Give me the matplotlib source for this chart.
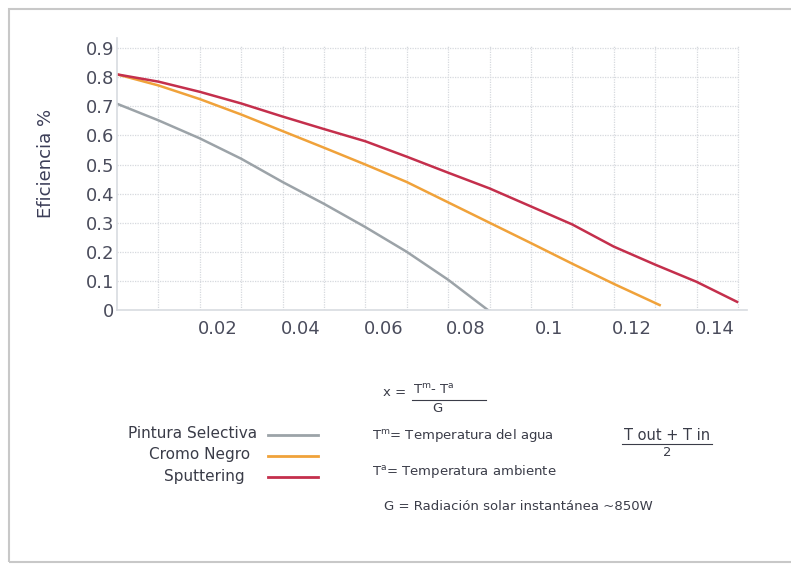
import matplotlib
matplotlib.use("Agg")
import matplotlib.pyplot as plt
import matplotlib.transforms as mtransforms
from matplotlib.patches import Rectangle
from matplotlib.lines import Line2D

# datos
x_pintura = [0.0, 0.01, 0.02, 0.03, 0.04, 0.05, 0.06, 0.07, 0.08, 0.0896]
y_pintura = [0.709, 0.652, 0.59, 0.52, 0.44, 0.365, 0.285, 0.20, 0.104, 0.0]

x_cromo = [0.0, 0.01, 0.02, 0.03, 0.04, 0.05, 0.06, 0.07, 0.08, 0.09, 0.10, 0.11, 0.12, 0.1311]
y_cromo = [0.81, 0.772, 0.725, 0.672, 0.615, 0.558, 0.50, 0.44, 0.37, 0.30, 0.23, 0.159, 0.09, 0.017]

x_sputter = [0.0, 0.01, 0.02, 0.03, 0.04, 0.05, 0.06, 0.07, 0.08, 0.09, 0.10, 0.11, 0.12, 0.13,
             0.14, 0.1498]
y_sputter = [0.81, 0.785, 0.75, 0.71, 0.665, 0.622, 0.58, 0.527, 0.472, 0.418, 0.356, 0.294,
             0.218, 0.156, 0.097, 0.028]

series_names = ["Pintura Selectiva", "Cromo Negro", "Sputtering"]
series_colors = ["#9ca3a8", "#f0a23a", "#c42f4c"]

x_ticks = [0.02, 0.04, 0.06, 0.08, 0.1, 0.12, 0.14]
x_ticklabels = ["0.02", "0.04", "0.06", "0.08", "0.1", "0.12", "0.14"]
y_ticks = [0, 0.1, 0.2, 0.3, 0.4, 0.5, 0.6, 0.7, 0.8, 0.9]
y_ticklabels = ["0", "0.1", "0.2", "0.3", "0.4", "0.5", "0.6", "0.7", "0.8", "0.9"]

W, H = 791, 564
fig = plt.figure(figsize=(W / 100, H / 100), dpi=100)
fig.patch.set_facecolor("white")

# marco gris alrededor
fig.add_artist(Rectangle((9 / W, 1 - 562 / H), 1.0, (562 - 9) / H,
                         transform=fig.transFigure, fill=False,
                         edgecolor="#c8c8c8", linewidth=1.5))

ax = fig.add_axes([117 / W, 1 - 310 / H, (747 - 117) / W, (310 - 38) / H])
ax.set_xlim(0, 0.1522)
ax.set_ylim(0, 0.935)

ax.plot(x_pintura, y_pintura, color=series_colors[0], lw=1.8)
ax.plot(x_cromo, y_cromo, color=series_colors[1], lw=1.8)
ax.plot(x_sputter, y_sputter, color=series_colors[2], lw=1.8)

# rejilla punteada
for gx in [i * 0.01 for i in range(1, 16)]:
    ax.plot([gx, gx], [0, 0.91], color="#d6d9de", lw=0.9, ls=(0, (1, 1)), zorder=0)
for gy in y_ticks[1:]:
    ax.plot([0, 0.15], [gy, gy], color="#d6d9de", lw=0.9, ls=(0, (1, 1)), zorder=0)

for s in ["top", "right"]:
    ax.spines[s].set_visible(False)
for s in ["left", "bottom"]:
    ax.spines[s].set_color("#d8dbe0")
    ax.spines[s].set_linewidth(1.2)

ax.set_xticks(x_ticks)
ax.set_xticklabels(x_ticklabels)
ax.set_yticks(y_ticks)
ax.set_yticklabels(y_ticklabels)
ax.tick_params(length=0, labelsize=13, colors="#4a4c5c")
ax.tick_params(axis="x", pad=7)
ax.tick_params(axis="y", pad=2)

# las etiquetas del eje x estan corridas a la derecha en el original
offset = mtransforms.ScaledTranslation(18 / 100, 0, fig.dpi_scale_trans)
for lab in ax.get_xticklabels():
    lab.set_transform(lab.get_transform() + offset)

ax.set_ylabel("Eficiencia %", fontsize=13, color="#3c3e58")
ax.yaxis.set_label_coords(-0.098, 0.54)

# leyenda manual
txt_color = "#3a3c48"
legend_y = [434, 455, 476]
legend_x_end = [257, 250, 245]
for name, col, ly, lx in zip(series_names, series_colors, legend_y, legend_x_end):
    fig.text(lx / W, 1 - ly / H, name, ha="right", va="center",
             fontsize=11, color=txt_color)
    fig.add_artist(Line2D([268 / W, 318 / W], [1 - (ly + 1) / H, 1 - (ly + 1) / H],
                          color=col, lw=2, transform=fig.transFigure))

# formula
fs = 9.5
fig.text(383 / W, 1 - 393 / H, "x =", ha="left", va="center", fontsize=fs, color=txt_color)
fig.text(413 / W, 1 - 390 / H, r"T$^{\rm m}$- T$^{\rm a}$", ha="left", va="center",
         fontsize=fs, color=txt_color)
fig.add_artist(Line2D([412 / W, 486 / W], [1 - 400 / H, 1 - 400 / H],
                      color=txt_color, lw=0.8, transform=fig.transFigure))
fig.text(437 / W, 1 - 408 / H, "G", ha="center", va="center", fontsize=fs, color=txt_color)

fig.text(372 / W, 1 - 435 / H, r"T$^{\rm m}$= Temperatura del agua", ha="left", va="center",
         fontsize=fs, color=txt_color)
fig.text(667 / W, 1 - 435 / H, "T out + T in", ha="center", va="center",
         fontsize=10.5, color=txt_color)
fig.add_artist(Line2D([622 / W, 712 / W], [1 - 444 / H, 1 - 444 / H],
                      color=txt_color, lw=0.8, transform=fig.transFigure))
fig.text(667 / W, 1 - 452 / H, "2", ha="center", va="center", fontsize=fs, color=txt_color)
fig.text(372 / W, 1 - 472 / H, r"T$^{\rm a}$= Temperatura ambiente", ha="left", va="center",
         fontsize=fs, color=txt_color)
fig.text(384 / W, 1 - 506 / H, "G = Radiación solar instantánea ~850W", ha="left",
         va="center", fontsize=fs, color=txt_color)

fig.savefig("out.png", dpi=100)
